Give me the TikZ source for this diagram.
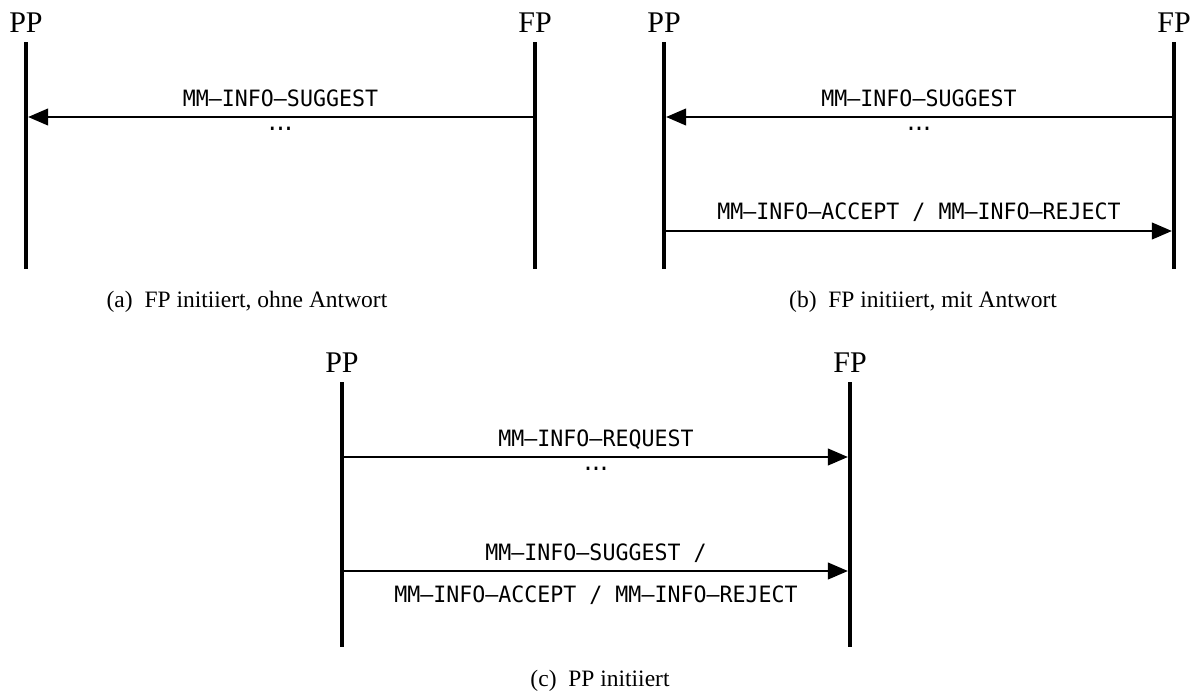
\documentclass[tikz,border=0pt]{standalone}
\usepackage{fontspec}
\setmainfont{Liberation Serif}
\newfontfamily\msgfont[FakeStretch=0.96]{DejaVu Sans Mono}
\usetikzlibrary{arrows.meta}
\newcommand{\msgdots}{.\kern-5pt.\kern-5pt.}
\tikzset{
  lifeLine/.style={line width=4.5pt},
  msgArrow/.style={
    line width=1.1pt,
    -{Triangle[length=20pt,width=17pt]},
    shorten >=2.2pt
  },
  msgLabel/.style={
    font=\msgfont\fontsize{22.5}{26}\selectfont,
    anchor=base,
    inner sep=0pt
  },
  partyLabel/.style={font=\fontsize{30}{34}\selectfont, anchor=base, inner sep=0pt},
  subCaption/.style={font=\fontsize{23.5}{27}\selectfont, anchor=base, inner sep=0pt}
}

\begin{document}
\begin{tikzpicture}[x=1pt,y=-1pt]
  \useasboundingbox (0,0) rectangle (1196,691);

  % parties and their lifelines
  \foreach \nm/\x/\y/\bot/\lab in {aPP/26/32/269/PP, aFP/535/32/269/FP,
      bPP/664/32/269/PP, bFP/1174/32/269/FP,
      cPP/342/372/647/PP, cFP/850/372/647/FP} {
    \node[partyLabel] (\nm) at (\x,\y) {\lab};
    \coordinate (\nm-end) at (\x,\bot);
    \draw[lifeLine] ([yshift=-10pt]\nm.base) -- (\nm-end);
  }

  % (a) FP initiiert, ohne Antwort
  \coordinate (aM1pp) at (aPP |- 0,117);
  \coordinate (aM1fp) at (aFP |- 0,117);
  \draw[msgArrow] (aM1fp) -- node[msgLabel, yshift=11pt] (aM1lab) {MM–INFO–SUGGEST}
    node[msgLabel, yshift=-13pt] (aM1dots) {\msgdots} (aM1pp);
  \node[subCaption] (aCap) at (247,307) {(a)\enspace FP initiiert, ohne Antwort};

  % (b) FP initiiert, mit Antwort
  \coordinate (bM1pp) at (bPP |- 0,117);
  \coordinate (bM1fp) at (bFP |- 0,117);
  \draw[msgArrow] (bM1fp) -- node[msgLabel, yshift=11pt] (bM1lab) {MM–INFO–SUGGEST}
    node[msgLabel, yshift=-13pt] (bM1dots) {\msgdots} (bM1pp);
  \coordinate (bM2pp) at (bPP |- 0,231);
  \coordinate (bM2fp) at (bFP |- 0,231);
  \draw[msgArrow] (bM2pp) -- node[msgLabel, yshift=12pt] (bM2lab)
    {MM–INFO–ACCEPT / MM–INFO–REJECT} (bM2fp);
  \node[subCaption] (bCap) at (923,307) {(b)\enspace FP initiiert, mit Antwort};

  % (c) PP initiiert
  \coordinate (cM1pp) at (cPP |- 0,457);
  \coordinate (cM1fp) at (cFP |- 0,457);
  \draw[msgArrow] (cM1pp) -- node[msgLabel, yshift=11pt] (cM1lab) {MM–INFO–REQUEST}
    node[msgLabel, yshift=-13pt] (cM1dots) {\msgdots} (cM1fp);
  \coordinate (cM2pp) at (cPP |- 0,571);
  \coordinate (cM2fp) at (cFP |- 0,571);
  \draw[msgArrow] (cM2pp) -- node[msgLabel, yshift=11pt] (cM2lab) {MM–INFO–SUGGEST /}
    node[msgLabel, yshift=-31pt] (cM2lab2) {MM–INFO–ACCEPT / MM–INFO–REJECT} (cM2fp);
  \node[subCaption] (cCap) at (600,686) {(c)\enspace PP initiiert};
\end{tikzpicture}
\end{document}
